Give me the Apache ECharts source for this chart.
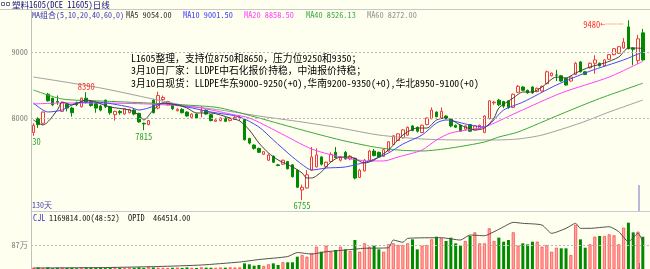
<!DOCTYPE html>
<html><head><meta charset="utf-8">
<script src="https://cdn.jsdelivr.net/npm/echarts@6/dist/echarts.min.js"></script>
<style>html,body{margin:0;padding:0;background:#FFFFEF}#c{width:650px;height:269px}</style>
</head><body><div id="c"></div>
<script>
// ---- data ----
const opens  = [7780,7990,7920,8360,8300,8250,8100,8210,8150,8230,8170,8300,8250,8220,8180,8270,8170,8050,8100,8060,8080,8120,8070,7920,7900,8270,8150,8280,8200,8200,8110,8130,8090,8010,8060,8100,8120,8050,7950,7960,8000,7960,7980,8000,7980,7690,7590,7540,7450,7360,7420,7290,7300,7340,7290,7210,6910,6940,7210,7260,7410,7260,7340,7480,7360,7480,7380,7390,7100,7200,7360,7500,7480,7420,7500,7600,7660,7700,7740,7880,7860,7780,7900,7990,8090,8000,8030,7980,7890,7890,7830,7900,7820,7840,7780,7990,8230,8270,8250,8260,8160,8390,8470,8420,8470,8400,8410,8520,8640,8650,8640,8600,8560,8660,8850,8700,8760,8830,8830,8790,8890,8960,8980,9060,9380,9060,8870,9290];
const closes = [7890,7900,8090,8260,8200,8240,8230,8150,8080,8200,8300,8240,8190,8150,8120,8170,8080,8100,8080,8140,8130,8060,7940,7910,7960,8080,8340,8310,8250,8140,8130,8080,8030,8060,8000,8110,8060,7960,7970,8000,7950,7990,8010,8010,7670,7620,7540,7480,7490,7440,7330,7280,7360,7230,7110,6950,6950,7140,7410,7440,7300,7330,7450,7400,7400,7380,7420,7090,7210,7360,7500,7430,7410,7520,7640,7730,7760,7820,7860,7810,7800,7890,8000,8120,8020,8100,7990,7880,7860,7800,7880,7800,7880,7890,8030,8260,8240,8200,8180,8160,8360,8480,8420,8380,8380,8450,8480,8700,8680,8650,8560,8500,8620,8830,8700,8660,8830,8880,8790,8880,8960,9050,9080,9150,9050,9040,9200,8880];
const lows   = [7730,7850,7900,8250,8180,8200,8090,8100,8020,8180,8160,8220,8170,8080,8100,8150,8050,7960,8050,8050,8070,8040,7930,7815,7890,8070,8130,8260,8190,8120,8100,8070,8020,8000,7990,8010,8050,7950,7940,7950,7940,7950,7970,7960,7660,7600,7520,7470,7440,7350,7320,7270,7290,7220,7100,6940,6755,6930,7200,7250,7280,7250,7330,7390,7340,7370,7360,7070,7090,7190,7350,7420,7400,7410,7490,7590,7650,7690,7730,7800,7780,7770,7890,7980,8010,7990,7980,7860,7850,7790,7820,7790,7810,7830,7770,7980,8200,8180,8150,8140,8150,8380,8410,8370,8370,8390,8400,8510,8630,8560,8550,8490,8550,8650,8690,8650,8750,8670,8780,8780,8880,8950,8970,9050,9040,8800,8820,8870];
const highs  = [7920,8010,8100,8380,8310,8340,8250,8230,8170,8250,8310,8390,8270,8240,8200,8280,8180,8110,8120,8150,8140,8150,8080,7930,7970,8290,8400,8340,8260,8210,8150,8150,8100,8070,8070,8180,8130,8060,7980,8010,8010,8000,8030,8040,7990,7700,7600,7550,7500,7460,7430,7300,7370,7350,7300,7220,6990,7210,7560,7540,7420,7340,7480,7560,7420,7500,7440,7400,7230,7380,7520,7530,7490,7530,7650,7740,7770,7830,7870,7890,7870,7900,8010,8160,8100,8160,8040,7990,7900,7900,7890,7910,7890,7900,8040,8270,8260,8290,8260,8270,8370,8500,8480,8430,8480,8460,8490,8720,8690,8730,8650,8610,8630,8850,8860,8710,8840,8950,8840,8890,8970,9060,9090,9210,9480,9070,9260,9350];
// volume in thousands of lots
const volumeK = [40,55,35,60,30,45,50,38,42,30,55,48,36,40,52,33,45,58,40,35,50,44,62,38,70,55,48,40,36,45,52,40,58,44,38,62,50,45,40,55,48,60,52,58,
 205,170,120,145,109,170,205,145,243,243,243,446,507,446,569,808,627,
 845,627,689,808,713,652,1051,627,930,808,845,713,627,894,930,870,870,930,1075,713,845,870,1075,1172,1112,1015,1136,930,845,1015,1196,1329,930,930,1474,1015,1136,990,
 1051,1329,845,930,894,990,990,808,870,627,772,750,750,507,1595,1075,772,894,1172,1196,1196,1256,1220,894,1500,1680,1329,1353,1169.814];
// moving-average lines, read at sampled candles (candle index / value)
const ma5Idx = [0,2,5,6,8,11,13,16,20,22,23,25,27,30,32,34,37,41,43,45,47,49,51,54,56,57,58,60,62,64,66,69,71,74,77,80,82,84,86,89,92,94,96,97,100,102,104,106,109,111,113,116,119,122,124,125,127];
const ma5Val = [7970,7894,8121,8242,8197,8273,8242,8167,8121,8045,7970,8121,8227,8197,8152,8076,8076,8000,7955,7818,7621,7470,7364,7258,7167,7091,7091,7182,7333,7409,7409,7318,7364,7515,7742,7848,7848,7970,8000,7894,7818,7848,8000,8152,8303,8394,8394,8470,8621,8606,8682,8773,8833,8924,9061,9061,9054];
const ma10Idx = [0,3,6,9,13,20,22,24,27,32,37,43,47,50,54,57,58,61,65,70,74,77,81,84,86,91,94,98,102,109,116,123,127];
const ma10Val = [8227,8091,8121,8227,8242,8167,8121,8152,8227,8167,8091,8015,7864,7667,7409,7242,7212,7242,7258,7349,7470,7606,7742,7924,7970,7894,7864,8121,8240,8500,8710,8880,9001.5];
const ma20Idx = [0,6,14,24,31,35,41,45,51,58,64,70,73,76,81,84,87,94,97,101,110,120,127];
const ma20Val = [8212,8227,8227,8212,8182,8152,8061,8000,7788,7530,7409,7349,7349,7409,7515,7667,7773,7864,7955,8091,8379,8621,8858.5];
const ma40Idx = [0,6,14,24,35,39,47,56,64,71,76,81,87,94,97,101,110,118,127];
const ma40Val = [8424,8288,8258,8227,8182,8152,8000,7818,7667,7561,7515,7500,7545,7636,7712,7788,8061,8295,8526.13];
const ma60Idx = [0,14,31,39,47,56,64,72,81,89,96,101,106,114,120,127];
const ma60Val = [8621,8455,8197,8121,8030,7939,7848,7742,7682,7667,7667,7682,7742,7924,8091,8272];
// open interest (thousands), sampled
const opidIdx = [0,15,26,35,43,47,53,55,58,61,65,69,74,75,77,78,85,89,91,94,96,98,100,102,106,108,111,113,114,116,120,122,124,126,127];
const opidK   = [17,25,42,68,119,161,212,280,255,294,323,352,362,493,454,522,532,493,578,566,634,719,794,777,748,607,692,777,692,692,719,634,464,607,464.514];
const priceTicks = [8000, 9000];
const volTick = 870000;
const notes = ['L1605整理，支持位8750和8650，压力位9250和9350；',
               '3月10日厂家：LLDPE中石化报价持稳，中油报价持稳；',
               '3月10日现货：LLDPE华东9000-9250(+0),华南9200-9350(+0),华北8950-9100(+0)'];
const markIdx = {hi8390: 11, lo7815: 23, lo6755: 56, lo0: 0, hi9480: 124};

// ---- chart ----
const N = opens.length;
const categories = opens.map((_, i) => 'd' + (i + 1));
const FONT = "'Noto Sans Mono CJK SC','Noto Sans CJK SC',sans-serif";
const PMIN = 8000 - 93 * 1000 / 66, PMAX = 8000 + 108 * 1000 / 66;
const VMAX = 57 * 36250, OMAX = 57 * 17015;
const pair = (ix, vals) => ix.map((x, k) => [x, vals[k]]);
const last = a => a[a.length - 1];
const upC = '#F03C3C', dnC = '#008A00';

const chart = echarts.init(document.getElementById('c'), null, {renderer: 'canvas'});
const txt = (x, y, s, fill, size, extra) => Object.assign({type: 'text', silent: true,
  style: {text: s, x: x, y: y, fill: fill, font: size + 'px ' + FONT, verticalAlign: 'middle', align: 'left'}}, extra || {});
const maLine = (name, ix, vals, color) => ({type: 'line', name: name, xAxisIndex: 0, yAxisIndex: 0,
  data: pair(ix, vals), showSymbol: false, smooth: 0.25, silent: true,
  lineStyle: {color: color, width: 1}, itemStyle: {color: color}, z: 3});
const lbl = (color, pos, dist, extra) => Object.assign({show: true, position: pos, distance: dist, color: color,
  fontSize: 8.5, fontFamily: FONT}, extra || {});

chart.setOption({
  animation: false,
  backgroundColor: '#FFFFEF',
  grid: [{left: 31, right: 0, top: 10, height: 201}, {left: 31, right: 0, top: 212, height: 57}],
  xAxis: [
    {type: 'category', gridIndex: 0, data: categories, max: N, boundaryGap: true,
     axisLine: {show: true, lineStyle: {color: '#C8C8D8'}}, axisTick: {show: false}, axisLabel: {show: false}, splitLine: {show: false}},
    {type: 'category', gridIndex: 1, data: categories, max: N, boundaryGap: true,
     axisLine: {show: false}, axisTick: {show: false}, axisLabel: {show: false}, splitLine: {show: false}}
  ],
  yAxis: [
    {type: 'value', gridIndex: 0, min: PMIN, max: PMAX,
     axisLine: {show: true, lineStyle: {color: '#C0C0C0'}}, axisTick: {show: false}, splitLine: {show: false},
     axisLabel: {color: '#808080', fontSize: 8.3, fontFamily: FONT, margin: 3,
       formatter: v => priceTicks.indexOf(Math.round(v)) >= 0 ? String(Math.round(v)) : ''}},
    {type: 'value', gridIndex: 1, min: 0, max: VMAX, interval: volTick,
     axisLine: {show: true, lineStyle: {color: '#C0C0C0'}}, axisTick: {show: false}, splitLine: {show: false},
     axisLabel: {color: '#808080', fontSize: 8.3, fontFamily: FONT, margin: 3,
       formatter: v => v === volTick ? (v / 10000) + '万' : ''}},
    {type: 'value', gridIndex: 1, min: 0, max: OMAX, show: false}
  ],
  series: [
    {type: 'candlestick', name: 'K', xAxisIndex: 0, yAxisIndex: 0, barWidth: 3, z: 2,
     data: opens.map((o, i) => [o, closes[i], lows[i], highs[i]]),
     itemStyle: {color: '#FFFFEF', color0: dnC, borderColor: upC, borderColor0: dnC, borderWidth: 1},
     markLine: {silent: true, symbol: 'none', label: {show: false},
       lineStyle: {color: '#B8B8B8', type: [2, 2], width: 1},
       data: priceTicks.map(v => ({yAxis: v}))},
     markPoint: {symbol: 'circle', symbolSize: 0, silent: true,
       data: [
         {coord: [markIdx.hi8390, highs[markIdx.hi8390]], value: highs[markIdx.hi8390], label: lbl('#FF3030', 'top', 1)},
         {coord: [markIdx.lo7815, lows[markIdx.lo7815]], value: lows[markIdx.lo7815], label: lbl('#2EA02E', 'bottom', 2)},
         {coord: [markIdx.lo6755, lows[markIdx.lo6755]], value: lows[markIdx.lo6755], label: lbl('#2EA02E', 'bottom', 1)},
         {coord: [markIdx.lo0, lows[markIdx.lo0]], value: lows[markIdx.lo0],
          label: lbl('#2EA02E', 'bottom', 2, {formatter: p => String(p.value).slice(-2), offset: [3, 0]})},
         {coord: [markIdx.hi9480, highs[markIdx.hi9480]], value: highs[markIdx.hi9480],
          label: lbl('#FF3030', 'left', 5, {offset: [0, 4], formatter: p => '{a|' + p.value + '}{b|←┄┄┄┄┄}',
            rich: {a: {color: '#FF3030', fontSize: 8.5, fontFamily: FONT}, b: {color: '#FF3030', fontSize: 6, fontFamily: 'DejaVu Sans'}}})}
       ]}},
    maLine('MA60', ma60Idx, ma60Val, '#A0A0A0'),
    maLine('MA40', ma40Idx, ma40Val, '#3CA83C'),
    maLine('MA20', ma20Idx, ma20Val, '#FF40FF'),
    maLine('MA10', ma10Idx, ma10Val, '#4646FF'),
    maLine('MA5', ma5Idx, ma5Val, '#404040'),
    {type: 'bar', name: 'CJL', xAxisIndex: 1, yAxisIndex: 1, barWidth: 3, silent: true,
     data: volumeK.map((v, i) => ({value: v * 1000,
       itemStyle: closes[i] >= opens[i] ? {color: '#FFA8A8', borderColor: '#FF3C3C', borderWidth: 0.7} : {color: dnC}})),
     markLine: {silent: true, symbol: 'none', label: {show: false},
       lineStyle: {color: '#B8B8B8', type: [2, 2], width: 1}, data: [{yAxis: volTick}]}},
    {type: 'line', name: 'OPID', xAxisIndex: 1, yAxisIndex: 2, data: pair(opidIdx, opidK.map(v => v * 1000)),
     showSymbol: false, smooth: 0.2, silent: true, lineStyle: {color: '#505050', width: 1}, z: 4}
  ],
  graphic: [
    {type: 'line', silent: true, shape: {x1: 0, y1: 9.5, x2: 650, y2: 9.5}, style: {stroke: '#C8C8C8', lineWidth: 1}},
    {type: 'rect', silent: true, shape: {x: 1.5, y: 2.5, width: 3, height: 3}, style: {fill: 'none', stroke: '#6A6A90', lineWidth: 1}},
    {type: 'rect', silent: true, shape: {x: 6.5, y: 2.5, width: 3, height: 3}, style: {fill: 'none', stroke: '#6A6A90', lineWidth: 1}},
    txt(12, 4.5, '塑料1605(DCE 11605)日线', '#101080', 8.5),
    txt(32, 14.5, 'MA组合(5,10,20,40,60,0)', '#3535B5', 8),
    txt(126, 14.5, 'MA5 ' + last(ma5Val).toFixed(2), '#333333', 8.3),
    txt(183, 14.5, 'MA10 ' + last(ma10Val).toFixed(2), '#3C3CFF', 8.3),
    txt(244, 14.5, 'MA20 ' + last(ma20Val).toFixed(2), '#FF40FF', 8.3),
    txt(306, 14.5, 'MA40 ' + last(ma40Val).toFixed(2), '#3CA83C', 8.3),
    txt(367, 14.5, 'MA60 ' + last(ma60Val).toFixed(2), '#909090', 8.3),
    txt(131, 58, notes[0], '#000000', 9.8),
    txt(131, 70.5, notes[1], '#000000', 9.8),
    txt(131, 83, notes[2], '#000000', 9.8),
    txt(32, 205, N + 2 + '天', '#4040B0', 8),
    txt(33, 217.5, 'CJL', '#4040C0', 8.3),
    txt(49, 217.5, (last(volumeK) * 1000).toFixed(2) + '(48:52)', '#202020', 8.3),
    txt(128, 217.5, 'OPID', '#202020', 8.3),
    txt(153, 217.5, (last(opidK) * 1000).toFixed(2), '#202020', 8.3),
    {type: 'line', silent: true, shape: {x1: 639, y1: 185, x2: 639, y2: 212}, style: {stroke: '#8888CC', lineWidth: 1.2}},
    {type: 'rect', silent: true, shape: {x: 638, y: 263, width: 2, height: 6}, style: {fill: '#7777BB'}}
  ]
});
</script></body></html>
